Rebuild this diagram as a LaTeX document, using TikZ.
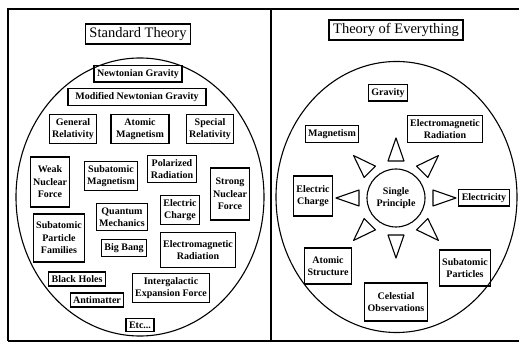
\documentclass[tikz,border=0pt]{standalone}
\usepackage{fontspec}
\setmainfont{Liberation Serif}
\tikzset{item/.style = {draw,line width=1.1pt,align=center,
  font=\bfseries\fontsize{10}{12.5}\selectfont,inner xsep=3pt,inner ysep=3.5pt}}
\tikzset{title/.style = {draw,line width=1.5pt,
  font=\fontsize{14.5}{16}\selectfont,inner xsep=4pt,inner ysep=3.5pt}}
\tikzset{frame/.style = {line width=1.4pt}}
\tikzset{ray/.style = {draw,line width=1.1pt,line join=round}}

\begin{document}
\begin{tikzpicture}[x=1pt,y=-1pt]
      \useasboundingbox (0,0) rectangle (519,344);
      \draw[frame] (8,341) -- (8,9) -- (519,9);
      \draw[frame] (271,9) -- (271,341);
      \draw[frame] (8,341) -- (519,341);

      \draw[line width=1.1pt] (140,197) ellipse [x radius=124, y radius=139];
      \draw[line width=1.1pt] (396.5,197) ellipse [x radius=120.5, y radius=135.5];

      \node[title] (std) at (138,34) {Standard Theory};
      \node[item] (ng) at (138,74) {Newtonian Gravity};
      \node[item,minimum width=138pt] (mng) at (137,97) {Modified Newtonian Gravity};
      \node[item] (gr) at (73,129) {General\\Relativity};
      \node[item,minimum width=58pt] (am) at (140,129) {Atomic\\Magnetism};
      \node[item] (sr) at (210,129) {Special\\Relativity};
      \node[item,minimum height=50pt] (wnf) at (50,182) {Weak\\Nuclear\\Force};
      \node[item] (sm) at (111,176) {Subatomic\\Magnetism};
      \node[item] (pr) at (172,169) {Polarized\\Radiation};
      \node[item,minimum height=52pt] (snf) at (230,194) {Strong\\Nuclear\\Force};
      \node[item] (ec) at (180,210) {Electric\\Charge};
      \node[item] (qm) at (122,217) {Quantum\\Mechanics};
      \node[item,minimum height=48pt] (spf) at (59,238) {Subatomic\\Particle\\Families};
      \node[item] (bb) at (124,248) {Big Bang};
      \node[item,minimum height=35pt] (er) at (198,250) {Electromagnetic\\Radiation};
      \node[item] (bh) at (77,279) {Black Holes};
      \node[item] (ief) at (171,288) {Intergalactic\\Expansion Force};
      \node[item] (anti) at (97,300) {Antimatter};
      \node[item] (etc) at (140,325) {Etc...};

      \node[title] (toe) at (396,30) {Theory of Everything};
      \node[item] (grav) at (388,93) {Gravity};
      \node[item] (emr) at (445,129) {Electromagnetic\\Radiation};
      \node[item] (mag) at (332,134) {Magnetism};
      \node[item,minimum height=40pt] (ec2) at (313,196) {Electric\\Charge};
      \node[item] (elec) at (484,198) {Electricity};
      \node[item,minimum height=36pt] (as) at (328,266) {Atomic\\Structure};
      \node[item,minimum height=36pt] (sp2) at (465,268) {Subatomic\\Particles};
      \node[item,minimum height=38pt] (co) at (396,302) {Celestial\\Observations};
      \node[circle,draw,line width=1.1pt,minimum size=58pt,align=center,inner sep=0pt,
        font=\bfseries\fontsize{10}{12.5}\selectfont] (sp) at (396,198) {Single\\Principle};

      \foreach \a in {0,45,...,315}
        \draw[ray,shift={(sp.center)},rotate=\a] (37,-8) -- (60,0) -- (37,8) -- cycle;
    \end{tikzpicture}
\end{document}
